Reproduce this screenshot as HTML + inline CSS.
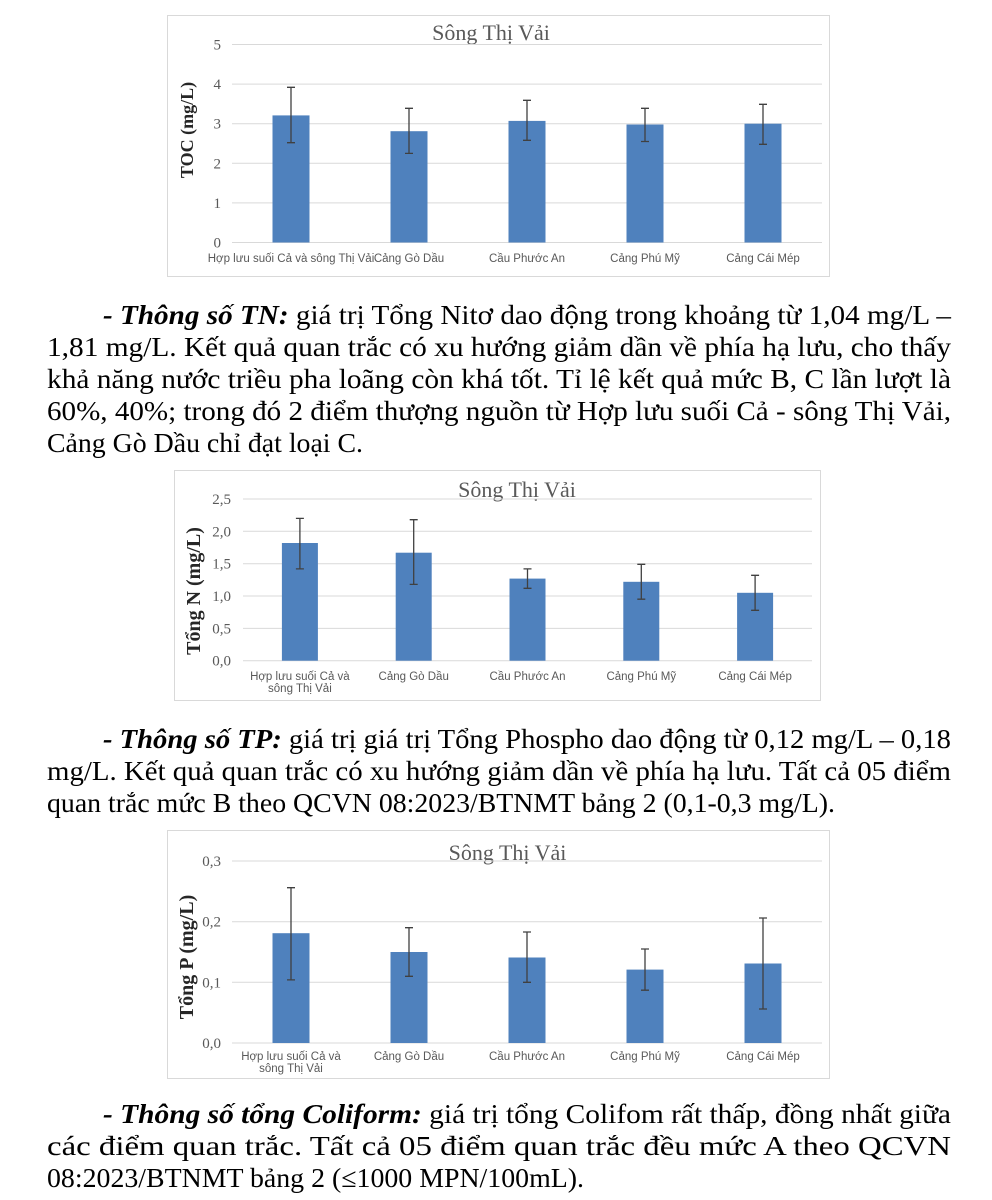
<!DOCTYPE html>
<html>
<head>
<meta charset="utf-8">
<style>
  html,body{margin:0;padding:0;background:#fff;}
  svg{display:block;}
  .body{font-family:"Liberation Serif","Noto Serif CJK SC",serif;font-size:27.5px;fill:#000;}
  .bi{font-weight:bold;font-style:italic;}
  .title{font-family:"Liberation Serif",serif;font-size:22px;fill:#595959;}
  .ytick{font-family:"Liberation Serif",serif;font-size:15px;fill:#595959;}
  .ytitle{font-family:"Liberation Serif",serif;font-weight:bold;fill:#262626;}
  .cat{font-family:"Liberation Sans",sans-serif;font-size:11.5px;fill:#595959;}
  .grid{stroke:#d9d9d9;stroke-width:1;}
  .frame{fill:#fff;stroke:#d9d9d9;stroke-width:1;}
  .bar{fill:#4f81bd;}
  .err{stroke:#404040;stroke-width:1.3;fill:none;}
</style>
</head>
<body>
<svg width="992" height="1200" viewBox="0 0 992 1200" xmlns="http://www.w3.org/2000/svg">
<rect x="0" y="0" width="992" height="1200" fill="#fff"/>

<!-- ================= CHART 1 ================= -->
<rect class="frame" x="167.5" y="15.5" width="662" height="261"/>
<text class="title" x="491" y="40" text-anchor="middle">Sông Thị Vải</text>
<g>
  <line class="grid" x1="232" y1="44.5" x2="822" y2="44.5"/>
  <line class="grid" x1="232" y1="84.1" x2="822" y2="84.1"/>
  <line class="grid" x1="232" y1="123.7" x2="822" y2="123.7"/>
  <line class="grid" x1="232" y1="163.3" x2="822" y2="163.3"/>
  <line class="grid" x1="232" y1="202.9" x2="822" y2="202.9"/>
  <line class="grid" x1="232" y1="242.5" x2="822" y2="242.5"/>
</g>
<g text-anchor="end">
  <text class="ytick" x="221" y="49.5">5</text>
  <text class="ytick" x="221" y="89.1">4</text>
  <text class="ytick" x="221" y="128.7">3</text>
  <text class="ytick" x="221" y="168.3">2</text>
  <text class="ytick" x="221" y="207.9">1</text>
  <text class="ytick" x="221" y="247.5">0</text>
</g>
<text class="ytitle" font-size="18" transform="translate(193,130) rotate(-90)" text-anchor="middle">TOC (mg/L)</text>
<g>
  <rect class="bar" x="272.5" y="115.4" width="37" height="127.1"/>
  <rect class="bar" x="390.5" y="131.2" width="37" height="111.3"/>
  <rect class="bar" x="508.5" y="120.9" width="37" height="121.6"/>
  <rect class="bar" x="626.5" y="124.5" width="37" height="118"/>
  <rect class="bar" x="744.5" y="123.7" width="37" height="118.8"/>
</g>
<g class="err">
  <path d="M291 87.3V142.7M287 87.3H295M287 142.7H295"/>
  <path d="M409 108.3V153.4M405 108.3H413M405 153.4H413"/>
  <path d="M527 100.3V140.3M523 100.3H531M523 140.3H531"/>
  <path d="M645 108.3V141.5M641 108.3H649M641 141.5H649"/>
  <path d="M763 104.3V144.3M759 104.3H767M759 144.3H767"/>
</g>
<g text-anchor="middle">
  <text class="cat" x="291" y="262">Hợp lưu suối Cả và sông Thị Vải</text>
  <text class="cat" x="409" y="262">Cảng Gò Dầu</text>
  <text class="cat" x="527" y="262">Cầu Phước An</text>
  <text class="cat" x="645" y="262">Cảng Phú Mỹ</text>
  <text class="cat" x="763" y="262">Cảng Cái Mép</text>
</g>

<!-- ================= PARAGRAPH 1 ================= -->
<text class="body" x="103" y="324" textLength="848" lengthAdjust="spacingAndGlyphs"><tspan class="bi">- Thông số TN:</tspan> giá trị Tổng Nitơ dao động trong khoảng từ 1,04 mg/L –</text>
<text class="body" x="47" y="356" textLength="904" lengthAdjust="spacingAndGlyphs">1,81 mg/L. Kết quả quan trắc có xu hướng giảm dần về phía hạ lưu, cho thấy</text>
<text class="body" x="47" y="388" textLength="904" lengthAdjust="spacingAndGlyphs">khả năng nước triều pha loãng còn khá tốt. Tỉ lệ kết quả mức B, C lần lượt là</text>
<text class="body" x="47" y="420" textLength="904" lengthAdjust="spacingAndGlyphs">60%, 40%; trong đó 2 điểm thượng nguồn từ Hợp lưu suối Cả - sông Thị Vải,</text>
<text class="body" x="47" y="452" textLength="316" lengthAdjust="spacingAndGlyphs">Cảng Gò Dầu chỉ đạt loại C.</text>

<!-- ================= CHART 2 ================= -->
<rect class="frame" x="174.5" y="470.5" width="646" height="230"/>
<text class="title" x="517" y="497" text-anchor="middle">Sông Thị Vải</text>
<g>
  <line class="grid" x1="243" y1="499" x2="812" y2="499"/>
  <line class="grid" x1="243" y1="531.3" x2="812" y2="531.3"/>
  <line class="grid" x1="243" y1="563.7" x2="812" y2="563.7"/>
  <line class="grid" x1="243" y1="596" x2="812" y2="596"/>
  <line class="grid" x1="243" y1="628.4" x2="812" y2="628.4"/>
  <line class="grid" x1="243" y1="660.7" x2="812" y2="660.7"/>
</g>
<g text-anchor="end">
  <text class="ytick" x="231" y="504">2,5</text>
  <text class="ytick" x="231" y="536.3">2,0</text>
  <text class="ytick" x="231" y="568.7">1,5</text>
  <text class="ytick" x="231" y="601">1,0</text>
  <text class="ytick" x="231" y="633.4">0,5</text>
  <text class="ytick" x="231" y="665.7">0,0</text>
</g>
<text class="ytitle" font-size="20" transform="translate(200,591) rotate(-90)" text-anchor="middle">Tổng N (mg/L)</text>
<g>
  <rect class="bar" x="281.9" y="543.0" width="36" height="117.7"/>
  <rect class="bar" x="395.7" y="552.7" width="36" height="108"/>
  <rect class="bar" x="509.5" y="578.6" width="36" height="82.1"/>
  <rect class="bar" x="623.3" y="581.8" width="36" height="78.9"/>
  <rect class="bar" x="737.1" y="592.8" width="36" height="67.9"/>
</g>
<g class="err">
  <path d="M299.9 518.4V568.9M295.9 518.4H303.9M295.9 568.9H303.9"/>
  <path d="M413.7 519.7V584.4M409.7 519.7H417.7M409.7 584.4H417.7"/>
  <path d="M527.5 568.9V588.3M523.5 568.9H531.5M523.5 588.3H531.5"/>
  <path d="M641.3 564.3V599.2M637.3 564.3H645.3M637.3 599.2H645.3"/>
  <path d="M755.1 575.3V610.3M751.1 575.3H759.1M751.1 610.3H759.1"/>
</g>
<g text-anchor="middle">
  <text class="cat" x="299.9" y="680">Hợp lưu suối Cả và</text>
  <text class="cat" x="299.9" y="692">sông Thị Vải</text>
  <text class="cat" x="413.7" y="680">Cảng Gò Dầu</text>
  <text class="cat" x="527.5" y="680">Cầu Phước An</text>
  <text class="cat" x="641.3" y="680">Cảng Phú Mỹ</text>
  <text class="cat" x="755.1" y="680">Cảng Cái Mép</text>
</g>

<!-- ================= PARAGRAPH 2 ================= -->
<text class="body" x="103" y="748" textLength="848" lengthAdjust="spacingAndGlyphs"><tspan class="bi">- Thông số TP:</tspan> giá trị giá trị Tổng Phospho dao động từ 0,12 mg/L – 0,18</text>
<text class="body" x="47" y="780" textLength="904" lengthAdjust="spacingAndGlyphs">mg/L. Kết quả quan trắc có xu hướng giảm dần về phía hạ lưu. Tất cả 05 điểm</text>
<text class="body" x="47" y="812" textLength="788" lengthAdjust="spacingAndGlyphs">quan trắc mức B theo QCVN 08:2023/BTNMT bảng 2 (0,1-0,3 mg/L).</text>

<!-- ================= CHART 3 ================= -->
<rect class="frame" x="167.5" y="830.5" width="662" height="248"/>
<text class="title" x="507.5" y="860" text-anchor="middle">Sông Thị Vải</text>
<g>
  <line class="grid" x1="232" y1="861" x2="822" y2="861"/>
  <line class="grid" x1="232" y1="921.7" x2="822" y2="921.7"/>
  <line class="grid" x1="232" y1="982.3" x2="822" y2="982.3"/>
  <line class="grid" x1="232" y1="1043" x2="822" y2="1043"/>
</g>
<g text-anchor="end">
  <text class="ytick" x="221" y="866">0,3</text>
  <text class="ytick" x="221" y="926.7">0,2</text>
  <text class="ytick" x="221" y="987.3">0,1</text>
  <text class="ytick" x="221" y="1048">0,0</text>
</g>
<text class="ytitle" font-size="20" transform="translate(193,957) rotate(-90)" text-anchor="middle">Tổng P (mg/L)</text>
<g>
  <rect class="bar" x="272.5" y="933.2" width="37" height="109.8"/>
  <rect class="bar" x="390.5" y="952.0" width="37" height="91"/>
  <rect class="bar" x="508.5" y="957.5" width="37" height="85.5"/>
  <rect class="bar" x="626.5" y="969.6" width="37" height="73.4"/>
  <rect class="bar" x="744.5" y="963.5" width="37" height="79.5"/>
</g>
<g class="err">
  <path d="M291 887.7V979.9M287 887.7H295M287 979.9H295"/>
  <path d="M409 927.7V976.3M405 927.7H413M405 976.3H413"/>
  <path d="M527 932.0V982.3M523 932.0H531M523 982.3H531"/>
  <path d="M645 949.0V990.2M641 949.0H649M641 990.2H649"/>
  <path d="M763 918.0V1009.0M759 918.0H767M759 1009.0H767"/>
</g>
<g text-anchor="middle">
  <text class="cat" x="291" y="1060">Hợp lưu suối Cả và</text>
  <text class="cat" x="291" y="1072">sông Thị Vải</text>
  <text class="cat" x="409" y="1060">Cảng Gò Dầu</text>
  <text class="cat" x="527" y="1060">Cầu Phước An</text>
  <text class="cat" x="645" y="1060">Cảng Phú Mỹ</text>
  <text class="cat" x="763" y="1060">Cảng Cái Mép</text>
</g>

<!-- ================= PARAGRAPH 3 ================= -->
<text class="body" x="103" y="1123" textLength="848" lengthAdjust="spacingAndGlyphs"><tspan class="bi">- Thông số tổng Coliform:</tspan> giá trị tổng Colifom rất thấp, đồng nhất giữa</text>
<text class="body" x="47" y="1155" textLength="904" lengthAdjust="spacingAndGlyphs">các điểm quan trắc. Tất cả 05 điểm quan trắc đều mức A theo QCVN</text>
<text class="body" x="47" y="1187" textLength="537" lengthAdjust="spacingAndGlyphs">08:2023/BTNMT bảng 2 (≤1000 MPN/100mL).</text>

</svg>
</body>
</html>
